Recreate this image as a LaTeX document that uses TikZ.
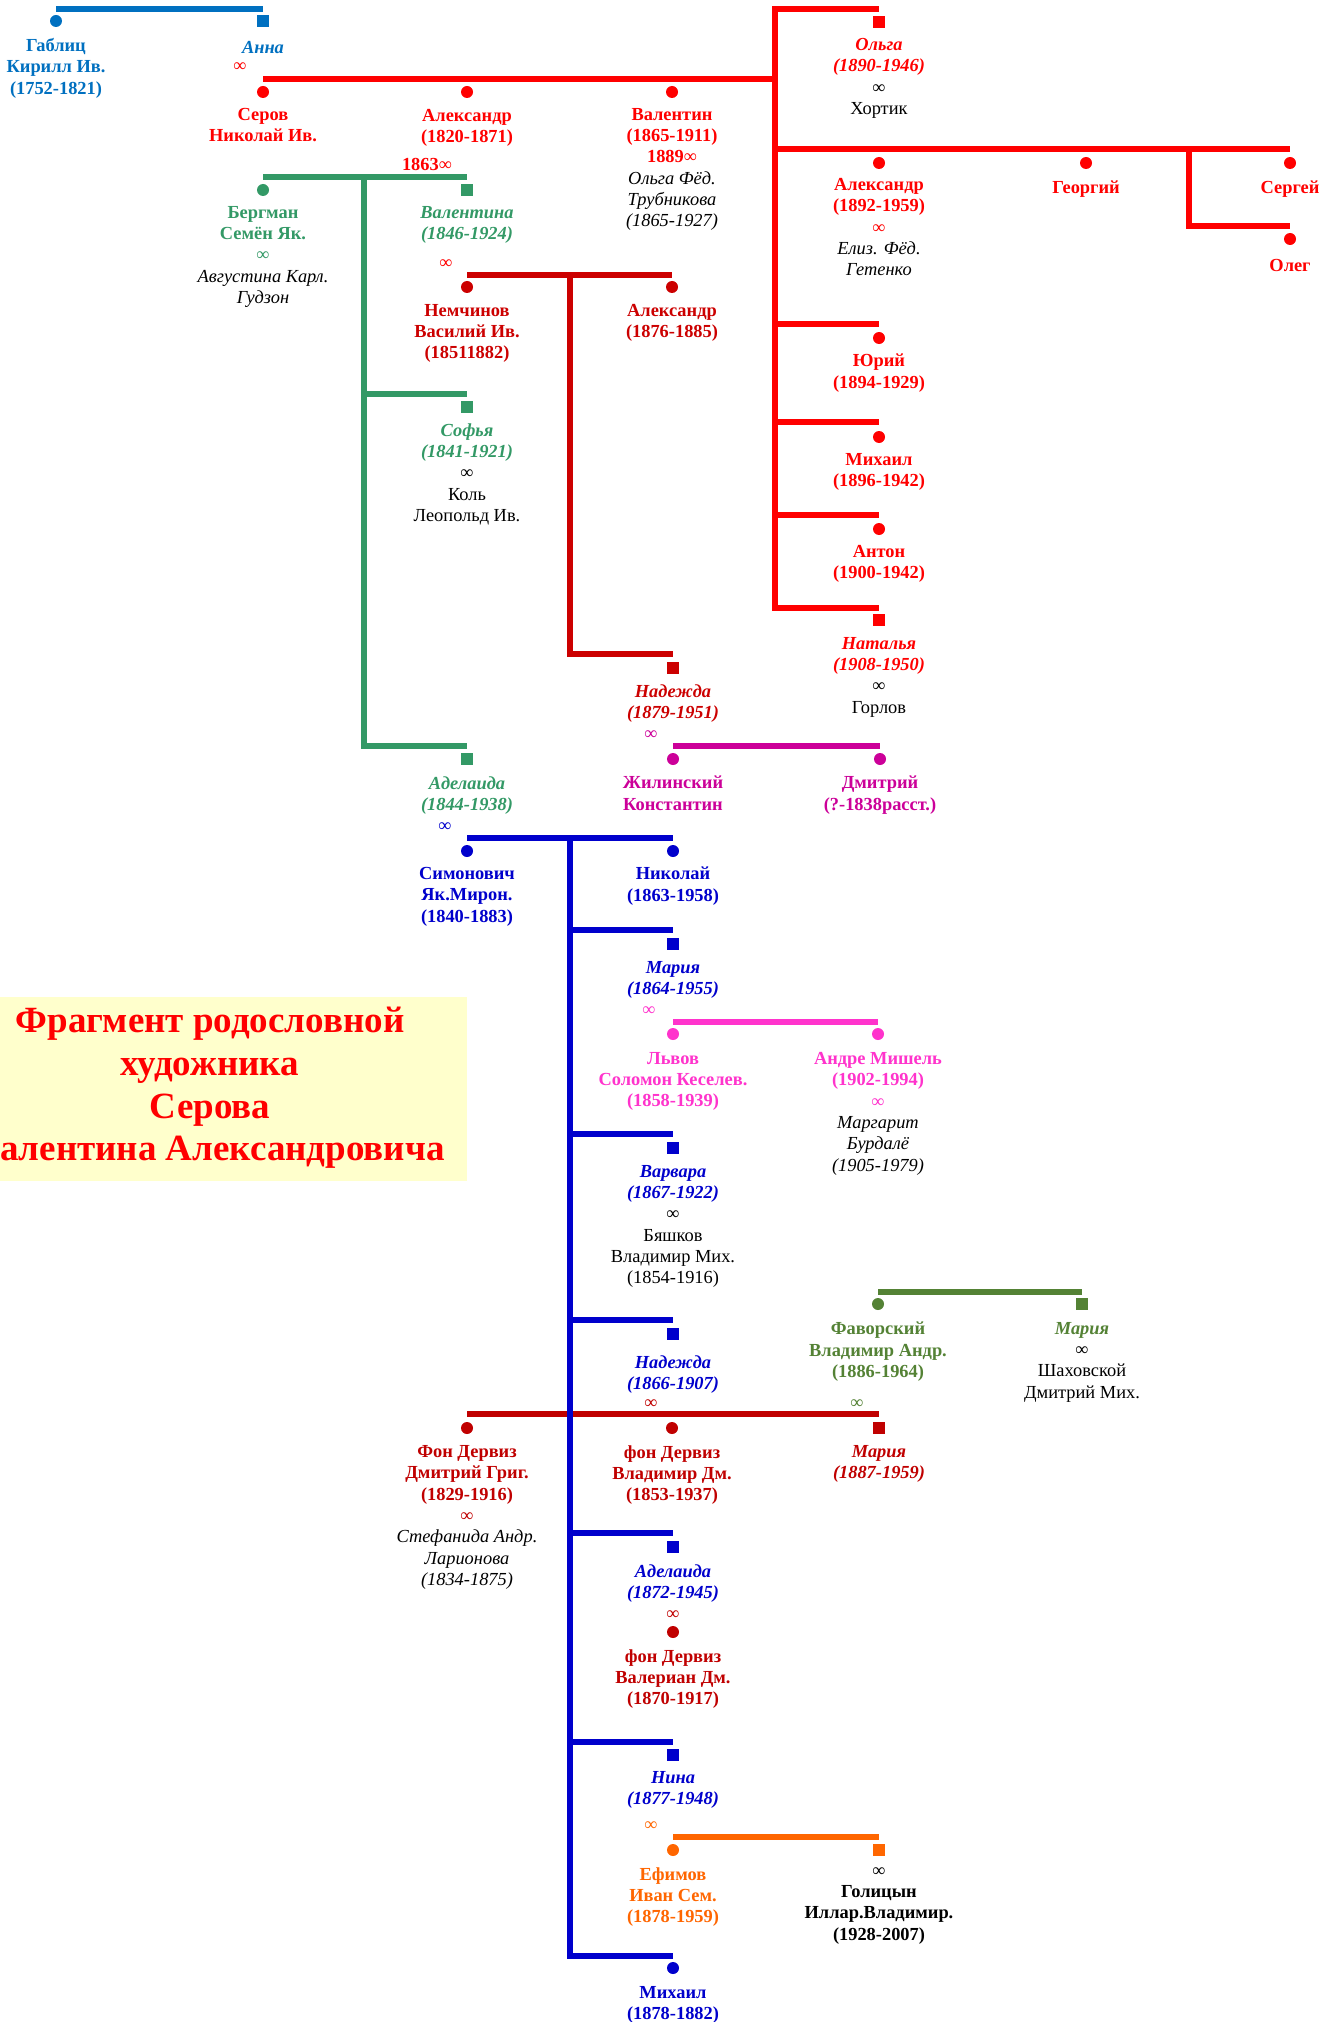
\documentclass[tikz,border=0pt]{standalone}
\usepackage{fontspec}
\setmainfont{Liberation Serif}
\usetikzlibrary{calc}
\definecolor{cgab}{HTML}{0070C0}
\definecolor{cred}{HTML}{FF0000}
\definecolor{cgrn}{HTML}{339966}
\definecolor{cdrd}{HTML}{CC0000}
\definecolor{cmag}{HTML}{CC0099}
\definecolor{cblu}{HTML}{0000CC}
\definecolor{cpnk}{HTML}{FF33CC}
\definecolor{coli}{HTML}{548235}
\definecolor{cder}{HTML}{C00000}
\definecolor{corg}{HTML}{FF6600}
\definecolor{cbg}{HTML}{FFFFCC}
\newcommand\bfnt{\fontsize{13.8}{16}\selectfont\bfseries}
\newcommand\spi[1]{{\mdseries\itshape\color{black}#1}}
\newcommand\spr[1]{{\mdseries\upshape\color{black}#1}}
\newcommand\marr[1]{{\mdseries\upshape\color{#1}∞}}
\begin{document}
\begin{tikzpicture}[x=0.75pt, y=-0.75pt,
  ln/.style={line width=4.1pt, line join=miter, line cap=butt, draw=#1},
  male/.style={circle, fill=#1, minimum size=9pt, inner sep=0pt, outer sep=0pt},
  fem/.style={rectangle, fill=#1, minimum size=9pt, inner sep=0pt, outer sep=0pt},
  txt/.style={anchor=north, inner sep=0pt, align=center, text=#1, font=\bfnt, yshift=-2.25pt, execute at begin node=\strut},
  ftxt/.style={txt=#1, font=\bfnt\itshape},
  ms/.style={inner sep=0pt, text=#1, yshift=-1pt, font=\fontsize{13.8}{16}\selectfont}]
\fill[white] (0,0) rectangle (1327,2022);
\useasboundingbox (0,0) rectangle (1327,2022);
% title
\fill[cbg] (0,997) rectangle (467,1181);
\node[anchor=north, align=center, inner sep=0pt, text=cred, font=\fontsize{27.75}{32}\selectfont\bfseries, execute at begin node=\strut] (title) at (210,1007) {Фрагмент родословной\\художника\\Серова\\Валентина Александровича};
% row and trunk coordinates
\coordinate (r-gab) at (0,9);
\coordinate (r-ser) at (0,79);
\coordinate (r-al92) at (0,149);
\coordinate (r-oleg) at (0,226);
\coordinate (r-yur) at (0,324);
\coordinate (r-mih) at (0,422);
\coordinate (r-ant) at (0,515);
\coordinate (r-nat) at (0,608);
\coordinate (r-berg) at (0,177);
\coordinate (r-sof) at (0,394);
\coordinate (r-adg) at (0,746);
\coordinate (r-nem) at (0,275);
\coordinate (r-nad) at (0,654);
\coordinate (r-sim) at (0,838);
\coordinate (r-mar) at (0,930);
\coordinate (r-lv) at (0,1022);
\coordinate (r-var) at (0,1134);
\coordinate (r-fav) at (0,1292);
\coordinate (r-nadb) at (0,1320);
\coordinate (r-der) at (0,1414);
\coordinate (r-adb) at (0,1533);
\coordinate (r-nin) at (0,1742);
\coordinate (r-ef) at (0,1837);
\coordinate (r-mih2) at (0,1956);
\coordinate (tr-red) at (775,0);
\coordinate (tr-red2) at (1189,0);
\coordinate (tr-grn) at (364,0);
\coordinate (tr-dr) at (570,0);
% markers
\node[male=cgab] (m-gab) at (56,21) {};
\node[fem=cgab] (m-anna) at (263,21) {};
\node[male=cred] (m-ser) at (263,92) {};
\node[male=cred] (m-al20) at (467,92) {};
\node[male=cred] (m-val) at (672,92) {};
\node[fem=cred] (m-olga) at (879,22) {};
\node[male=cred] (m-al92) at (879,163) {};
\node[male=cred] (m-geo) at (1086,163) {};
\node[male=cred] (m-ser2) at (1290,163) {};
\node[male=cred] (m-oleg) at (1290,239) {};
\node[male=cred] (m-yur) at (879,338) {};
\node[male=cred] (m-mih96) at (879,437) {};
\node[male=cred] (m-ant) at (879,529) {};
\node[fem=cred] (m-nat) at (879,620) {};
\node[male=cgrn] (m-berg) at (263,190) {};
\node[fem=cgrn] (m-vala) at (467,190) {};
\node[male=cdrd] (m-nem) at (467,287) {};
\node[male=cdrd] (m-al76) at (672,287) {};
\node[fem=cgrn] (m-sof) at (467,407) {};
\node[fem=cdrd] (m-nad) at (673,668) {};
\node[fem=cgrn] (m-adg) at (467,759) {};
\node[male=cmag] (m-zhil) at (673,759) {};
\node[male=cmag] (m-dmi) at (880,759) {};
\node[male=cblu] (m-sim) at (467,851) {};
\node[male=cblu] (m-nik) at (673,851) {};
\node[fem=cblu] (m-mar) at (673,944) {};
\node[male=cpnk] (m-lv) at (673,1034) {};
\node[male=cpnk] (m-andre) at (878,1034) {};
\node[fem=cblu] (m-var) at (673,1148) {};
\node[fem=cblu] (m-nadb) at (673,1334) {};
\node[male=coli] (m-fav) at (878,1304) {};
\node[fem=coli] (m-maro) at (1082,1304) {};
\node[male=cder] (m-dd) at (467,1428) {};
\node[male=cder] (m-dv) at (672,1428) {};
\node[fem=cder] (m-mard) at (879,1428) {};
\node[fem=cblu] (m-adb) at (673,1547) {};
\node[male=cder] (m-dval) at (673,1632) {};
\node[fem=cblu] (m-nin) at (673,1755) {};
\node[male=corg] (m-ef) at (673,1850) {};
\node[fem=corg] (m-gol) at (879,1850) {};
\node[male=cblu] (m-mih78) at (673,1968) {};
% lines
\draw[ln=cgab] (m-gab |- r-gab) -- (m-anna |- r-gab);
\draw[ln=cred] (m-olga |- r-gab) -- (tr-red |- r-gab) -- (tr-red |- r-nat) -- (m-nat |- r-nat);
\draw[ln=cred] (m-ser |- r-ser) -- (tr-red |- r-ser);
\draw[ln=cred] (tr-red |- r-al92) -- (m-ser2 |- r-al92);
\draw[ln=cred] (tr-red2 |- r-al92) -- (tr-red2 |- r-oleg) -- (m-oleg |- r-oleg);
\draw[ln=cred] (tr-red |- r-yur) -- (m-yur |- r-yur);
\draw[ln=cred] (tr-red |- r-mih) -- (m-mih96 |- r-mih);
\draw[ln=cred] (tr-red |- r-ant) -- (m-ant |- r-ant);
\draw[ln=cgrn] (m-berg |- r-berg) -- (m-vala |- r-berg);
\draw[ln=cgrn] (tr-grn |- r-berg) -- (tr-grn |- r-adg) -- (m-adg |- r-adg);
\draw[ln=cgrn] (tr-grn |- r-sof) -- (m-sof |- r-sof);
\draw[ln=cdrd] (m-nem |- r-nem) -- (m-al76 |- r-nem);
\draw[ln=cdrd] (tr-dr |- r-nem) -- (tr-dr |- r-nad) -- (m-nad |- r-nad);
\draw[ln=cmag] (m-zhil |- r-adg) -- (m-dmi |- r-adg);
\draw[ln=cpnk] (m-lv |- r-lv) -- (m-andre |- r-lv);
\draw[ln=coli] (m-fav |- r-fav) -- (m-maro |- r-fav);
\draw[ln=cder] (m-dd |- r-der) -- (m-mard |- r-der);
\draw[ln=corg] (m-ef |- r-ef) -- (m-gol |- r-ef);
\draw[ln=cblu] (m-sim |- r-sim) -- (m-nik |- r-sim);
\draw[ln=cblu] (tr-dr |- r-sim) -- (tr-dr |- r-mih2) -- (m-mih78 |- r-mih2);
\draw[ln=cblu] (tr-dr |- r-mar) -- (m-mar |- r-mar);
\draw[ln=cblu] (tr-dr |- r-var) -- (m-var |- r-var);
\draw[ln=cblu] (tr-dr |- r-nadb) -- (m-nadb |- r-nadb);
\draw[ln=cblu] (tr-dr |- r-adb) -- (m-adb |- r-adb);
\draw[ln=cblu] (tr-dr |- r-nin) -- (m-nin |- r-nin);
% texts
\node[txt=cgab] (t-gab) at (56,35) {Габлиц\\Кирилл Ив.\\(1752-1821)};
\node[ftxt=cgab] (t-anna) at (263,35) {Анна};
\node[ms=cred] (x-anna) at (240,66) {∞};
\node[txt=cred] (t-ser) at (263,105) {Серов\\Николай Ив.};
\node[txt=cred] (t-al20) at (467,106) {Александр\\(1820-1871)};
\node[ms=cred, font=\bfnt] (x-1863) at (427,163) {1863\marr{cred}};
\node[txt=cred] (t-val) at (672,105) {Валентин\\(1865-1911)\\1889\marr{cred}\\\spi{Ольга Фёд.}\\\spi{Трубникова}\\\spi{(1865-1927)}};
\node[ftxt=cred] (t-olga) at (879,35) {Ольга\\(1890-1946)\\\marr{black}\\\spr{Хортик}};
\node[txt=cred] (t-al92) at (879,175) {Александр\\(1892-1959)\\\marr{cred}\\\spi{Елиз. Фёд.}\\\spi{Гетенко}};
\node[txt=cred] (t-geo) at (1086,175) {Георгий};
\node[txt=cred] (t-ser2) at (1290,175) {Сергей};
\node[txt=cred] (t-oleg) at (1290,253) {Олег};
\node[txt=cred] (t-yur) at (879,351) {Юрий\\(1894-1929)};
\node[txt=cred] (t-mih96) at (879,450) {Михаил\\(1896-1942)};
\node[txt=cred] (t-ant) at (879,542) {Антон\\(1900-1942)};
\node[ftxt=cred] (t-nat) at (879,634) {Наталья\\(1908-1950)\\\marr{black}\\\spr{Горлов}};
\node[txt=cgrn] (t-berg) at (263,203) {Бергман\\Семён Як.\\\marr{cgrn}\\\spi{Августина Карл.}\\\spi{Гудзон}};
\node[ftxt=cgrn] (t-vala) at (467,203) {Валентина\\(1846-1924)};
\node[ms=cred] (x-vala) at (446,263) {∞};
\node[txt=cdrd] (t-nem) at (467,301) {Немчинов\\Василий Ив.\\(18511882)};
\node[txt=cdrd] (t-al76) at (672,301) {Александр\\(1876-1885)};
\node[ftxt=cgrn] (t-sof) at (467,420) {Софья\\(1841-1921)\\\marr{black}\\\spr{Коль}\\\spr{Леопольд Ив.}};
\node[ftxt=cdrd] (t-nad) at (673,681) {Надежда\\(1879-1951)};
\node[ms=cmag] (x-nad) at (651,734) {∞};
\node[ftxt=cgrn] (t-adg) at (467,773) {Аделаида\\(1844-1938)};
\node[ms=cblu] (x-adg) at (445,826) {∞};
\node[txt=cmag] (t-zhil) at (673,773) {Жилинский\\Константин};
\node[txt=cmag] (t-dmi) at (880,773) {Дмитрий\\(?-1838расст.)};
\node[txt=cblu] (t-sim) at (467,864) {Симонович\\Як.Мирон.\\(1840-1883)};
\node[txt=cblu] (t-nik) at (673,864) {Николай\\(1863-1958)};
\node[ftxt=cblu] (t-mar) at (673,958) {Мария\\(1864-1955)};
\node[ms=cpnk] (x-mar) at (649,1010) {∞};
\node[txt=cpnk] (t-lv) at (673,1049) {Львов\\Соломон Кеселев.\\(1858-1939)};
\node[txt=cpnk] (t-andre) at (878,1049) {Андре Мишель\\(1902-1994)\\\marr{cpnk}\\\spi{Маргарит}\\\spi{Бурдалё}\\\spi{(1905-1979)}};
\node[ftxt=cblu] (t-var) at (673,1162) {Варвара\\(1867-1922)\\\marr{black}\\\spr{Бяшков}\\\spr{Владимир Мих.}\\\spr{(1854-1916)}};
\node[ftxt=cblu] (t-nadb) at (673,1352) {Надежда\\(1866-1907)};
\node[ms=cder] (x-nadb) at (651,1403) {∞};
\node[txt=coli] (t-fav) at (878,1319) {Фаворский\\Владимир Андр.\\(1886-1964)};
\node[ms=coli] (x-fav) at (857,1403) {∞};
\node[ftxt=coli] (t-maro) at (1082,1319) {Мария\\\marr{black}\\\spr{Шаховской}\\\spr{Дмитрий Мих.}};
\node[txt=cder] (t-dd) at (467,1442) {Фон Дервиз\\Дмитрий Григ.\\(1829-1916)\\\marr{cder}\\\spi{Стефанида Андр.}\\\spi{Ларионова}\\\spi{(1834-1875)}};
\node[txt=cder] (t-dv) at (672,1442) {фон Дервиз\\Владимир Дм.\\(1853-1937)};
\node[ftxt=cder] (t-mard) at (879,1442) {Мария\\(1887-1959)};
\node[ftxt=cblu] (t-adb) at (673,1561) {Аделаида\\(1872-1945)\\\marr{cder}};
\node[txt=cder] (t-dval) at (673,1646) {фон Дервиз\\Валериан Дм.\\(1870-1917)};
\node[ftxt=cblu] (t-nin) at (673,1768) {Нина\\(1877-1948)};
\node[ms=corg] (x-nin) at (651,1825) {∞};
\node[txt=corg] (t-ef) at (673,1864) {Ефимов\\Иван Сем.\\(1878-1959)};
\node[txt=black] (t-gol) at (879,1864) {\marr{black}\\Голицын\\Иллар.Владимир.\\(1928-2007)};
\node[txt=cblu] (t-mih78) at (673,1983) {Михаил\\(1878-1882)};
\end{tikzpicture}
\end{document}
